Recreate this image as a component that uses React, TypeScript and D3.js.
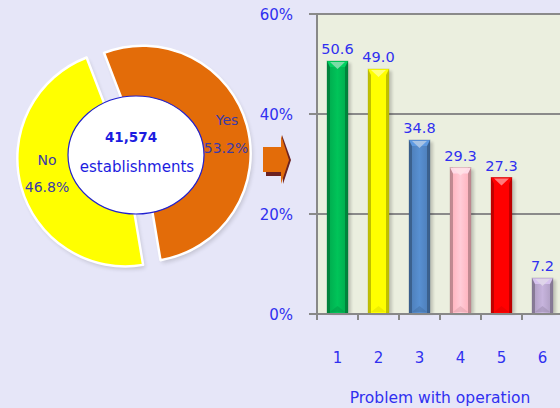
import React from "react";
import * as d3 from "d3";

const categories = ["1", "2", "3", "4", "5", "6"];
const values = [50.6, 49.0, 34.8, 29.3, 27.3, 7.2];
const barColors = ["#00B050", "#FFFF00", "#4F81BD", "#FFB6C1", "#FF0000", "#B3A2C7"];
const yTicks = [0, 20, 40, 60];
const pieLabels = ["Yes", "No"];
const pieValues = [53.2, 46.8];
const pieColors = ["#E36C09", "#FFFF00"];
const totalLabel = "41,574";
const centerLabel = "establishments";
const xTitle = "Problem with operation";

const W = 560;
const H = 408;
const FONT = "'DejaVu Sans', Verdana, sans-serif";
const BLUE = "#3030F0";

export default function App() {
  const plotL = 317;
  const plotT = 14;
  const plotB = 314;
  const x = d3.scaleBand<string>().domain(categories).range([plotL, plotL + 41 * 6]).paddingInner(0).paddingOuter(0);
  const y = d3.scaleLinear().domain([0, 60]).range([plotB, plotT]);
  const barW = 21;

  // pie
  const cx = 134;
  const cy = 156;
  const R = 108;
  const pie = d3
    .pie<number>()
    .sort(null)
    .startAngle((-21 * Math.PI) / 180)
    .endAngle((339 * Math.PI) / 180);
  const arcs = pie(pieValues);
  const arc = d3.arc<d3.PieArcDatum<number>>().innerRadius(0).outerRadius(R);
  const explode = 9;

  return (
    <div style={{ position: "fixed", left: 0, top: 0, width: W, height: H }}>
      <svg width={W} height={H} style={{ display: "block", background: "#E6E6F8" }} fontFamily={FONT}>
        <defs>
          {barColors.map((c, i) => {
            const base = d3.color(c)!;
            const dark = base.darker(0.8).formatHex();
            const light = base.brighter(0.3).formatHex();
            return (
              <linearGradient id={`bg${i}`} key={i} x1="0" x2="1" y1="0" y2="0">
                <stop offset="0" stopColor={dark} />
                <stop offset="0.12" stopColor={dark} />
                <stop offset="0.14" stopColor={base.formatHex()} />
                <stop offset="0.5" stopColor={light} />
                <stop offset="0.86" stopColor={base.formatHex()} />
                <stop offset="0.88" stopColor={dark} />
                <stop offset="1" stopColor={dark} />
              </linearGradient>
            );
          })}
          <filter id="blur" x="-50%" y="-10%" width="200%" height="120%">
            <feGaussianBlur stdDeviation="1.5" />
          </filter>
          <filter id="pblur" x="-20%" y="-20%" width="140%" height="140%">
            <feGaussianBlur stdDeviation="2" />
          </filter>
        </defs>

        {/* plot background */}
        <rect x={plotL} y={plotT} width={W - plotL} height={plotB - plotT} fill="#EBEFDF" />
        {/* gridlines */}
        {yTicks.map((t) => (
          <line key={t} x1={309} x2={W} y1={y(t)} y2={y(t)} stroke="#8A8A8A" strokeWidth={2} />
        ))}
        {/* y tick labels */}
        {yTicks.map((t) => (
          <text key={t} x={293} y={y(t) + 6} textAnchor="end" fontSize={15} fill={BLUE}>
            {t}%
          </text>
        ))}

        {/* bars */}
        {values.map((v, i) => {
          const cxb = x(categories[i])! + x.bandwidth() / 2;
          const x0 = cxb - barW / 2;
          const yt = y(v);
          const h = plotB - yt;
          const base = d3.color(barColors[i])!;
          const cap = base.brighter(0.5).formatHex();
          const hl = d3.interpolateRgb(barColors[i], "#ffffff")(0.6);
          const bot = base.darker(0.4).formatHex();
          const edge = base.darker(1.2).formatHex();
          return (
            <g key={i}>
              <rect x={x0 + 3} y={yt + 2} width={barW} height={h - 2} fill="#000" opacity={0.18} filter="url(#blur)" />
              <rect x={x0} y={yt} width={barW} height={h} fill={`url(#bg${i})`} />
              <path
                d={`M${x0},${yt} L${x0 + barW},${yt} L${x0 + barW - 3},${yt + 6} L${x0 + 3},${yt + 6} Z`}
                fill={cap}
              />
              <path
                d={`M${x0 + 3},${yt + 1} L${x0 + barW - 3},${yt + 1} L${cxb},${yt + 8} Z`}
                fill={hl}
                opacity={0.8}
              />
              <path
                d={`M${x0 + 3},${plotB - 2} L${x0 + barW - 3},${plotB - 2} L${cxb},${plotB - 8} Z`}
                fill={bot}
                opacity={0.5}
              />
              <rect x={x0} y={yt} width={barW} height={h} fill="none" stroke={edge} strokeOpacity={0.35} strokeWidth={0.8} />
              <text x={cxb} y={yt - 7} textAnchor="middle" fontSize={14.5} fill={BLUE}>
                {v.toFixed(1)}
              </text>
            </g>
          );
        })}

        {/* axes */}
        <line x1={plotL} x2={plotL} y1={plotT - 1} y2={plotB + 1} stroke="#888" strokeWidth={2} />
        <line x1={309} x2={W} y1={plotB} y2={plotB} stroke="#888" strokeWidth={2} />
        {categories.map((c, i) => (
          <line key={c} x1={plotL + i * 41} x2={plotL + i * 41} y1={plotB} y2={plotB + 6} stroke="#888" strokeWidth={2} />
        ))}
        {categories.map((c) => (
          <text key={c} x={x(c)! + x.bandwidth() / 2} y={363} textAnchor="middle" fontSize={15} fill={BLUE}>
            {c}
          </text>
        ))}
        <text x={440} y={403} textAnchor="middle" fontSize={15.5} fill={BLUE}>
          {xTitle}
        </text>

        {/* arrow */}
        <g>
          <path d="M266,172 L285,172 L285,176 L266,176 Z" fill="#6B2222" />
          <path d="M282,135 L291,160 L283,184 Z" fill="#6B2222" />
          <rect x={263} y={147} width={19} height={25} fill="#E36C09" />
          <path d="M281,135 L289,160 L281,184 Z" fill="#E36C09" />
        </g>

        {/* pie shadows */}
        {arcs.map((a, i) => {
          const mid = (a.startAngle + a.endAngle) / 2;
          const dx = Math.sin(mid) * explode;
          const dy = -Math.cos(mid) * explode;
          return (
            <path
              key={i}
              d={arc(a)!}
              transform={`translate(${cx + dx + 2},${cy + dy + 3})`}
              fill="#000"
              opacity={0.15}
              filter="url(#pblur)"
            />
          );
        })}
        {/* pie */}
        {arcs.map((a, i) => {
          const mid = (a.startAngle + a.endAngle) / 2;
          const dx = Math.sin(mid) * explode;
          const dy = -Math.cos(mid) * explode;
          return (
            <path
              key={i}
              d={arc(a)!}
              transform={`translate(${cx + dx},${cy + dy})`}
              fill={pieColors[i]}
              stroke="#ffffff"
              strokeWidth={2.5}
              strokeLinejoin="round"
            />
          );
        })}
        <ellipse cx={136} cy={155} rx={68} ry={59} fill="#ffffff" stroke="#2020D0" strokeWidth={1.2} />
        <text x={131} y={142} textAnchor="middle" fontSize={13.5} fontWeight="bold" fill="#1C1CE0">
          {totalLabel}
        </text>
        <text x={137} y={172} textAnchor="middle" fontSize={15} fill="#1C1CE0">
          {centerLabel}
        </text>
        <text x={227} y={125} textAnchor="middle" fontSize={14} fill="#3A3AA8">
          {pieLabels[0]}
        </text>
        <text x={226} y={153} textAnchor="middle" fontSize={14} fill="#3A3AA8">
          {pieValues[0].toFixed(1)}%
        </text>
        <text x={47} y={165} textAnchor="middle" fontSize={14} fill="#3A3AA8">
          {pieLabels[1]}
        </text>
        <text x={47} y={192} textAnchor="middle" fontSize={14} fill="#3A3AA8">
          {pieValues[1].toFixed(1)}%
        </text>
      </svg>
    </div>
  );
}
